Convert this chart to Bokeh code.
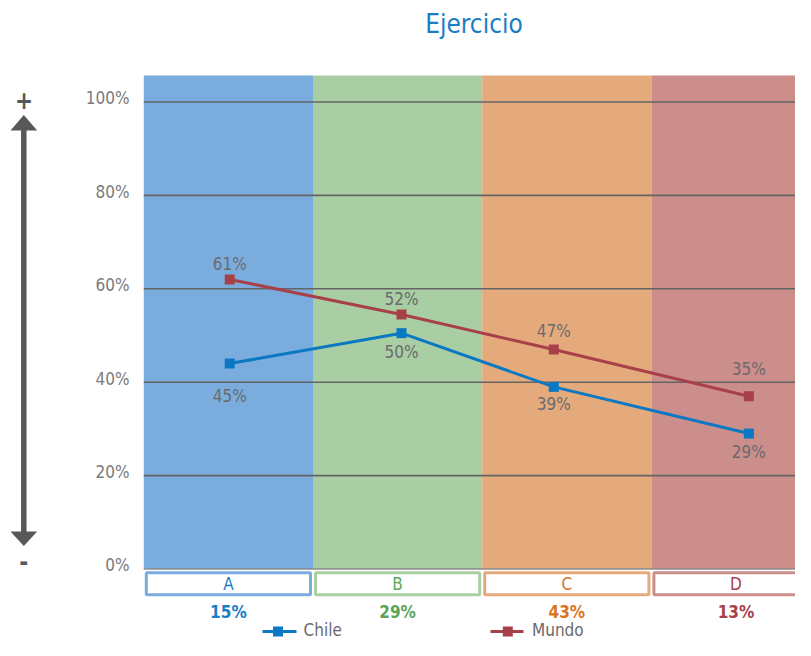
from bokeh.plotting import figure
from bokeh.models import Range1d
from bokeh.core.properties import value
from bokeh.embed import file_html
from bokeh.resources import INLINE

# ---------------- data ----------------
title_text = "Ejercicio"
categories = ["A", "B", "C", "D"]
category_share = ["15%", "29%", "43%", "13%"]
series_names = ["Chile", "Mundo"]
chile_values = [44, 50.5, 39, 29]
chile_labels = ["45%", "50%", "39%", "29%"]
mundo_values = [62, 54.5, 47, 37]
mundo_labels = ["61%", "52%", "47%", "35%"]
tick_values = [0, 20, 40, 60, 80, 100]
tick_labels = ["0%", "20%", "40%", "60%", "80%", "100%"]

# ---------------- layout / style ----------------
FONT = "DejaVu Sans Condensed, Roboto"
FIG_W, FIG_H = 795, 640
ORIG = 0                     # picture offset of the figure
PX0, BW = 143.3, 169.2       # picture x of category 0, px per category
PY0, YS = 568.5, 4.67        # picture y of 0 %, px per percent

point_x = [0.508, 1.523, 2.423, 3.576]
chile_label_dy = [32, 19, 17.5, 18.5]     # px below the point
mundo_label_dy = [-15.5, -15.5, -18.5, -27.5]

band_colors = ["#7AADDD", "#AACEA3", "#E4AA7C", "#CC8E8A"]
cat_text_colors = ["#1A7EC4", "#5AAA5A", "#D2722A", "#A8404A"]
share_colors = ["#1A7EC4", "#5BA55B", "#D9741F", "#A8404A"]
chile_color = "#0A78C2"
mundo_color = "#A8404A"
grid_color = "#646464"
label_color = "#6A6A6E"
tick_color = "#7A7A7A"
arrow_color = "#58585A"


def dx(px):
    return (px - PX0) / BW


def dy(py):
    return (PY0 - py) / YS


p = figure(width=FIG_W, height=FIG_H, output_backend="svg", toolbar_location=None,
           x_range=Range1d(dx(ORIG), dx(ORIG + FIG_W)), y_range=Range1d(dy(ORIG + FIG_H), dy(ORIG)),
           x_axis_location=None, y_axis_location=None, min_border=0)
p.outline_line_color = None
p.grid.visible = False
p.background_fill_color = "white"

n = len(categories)
idx = list(range(n))

# colored bands
p.quad(left=idx, right=[i + 1 for i in idx], bottom=0, top=dy(75),
       fill_color=band_colors, line_color=None)

# grid lines
p.segment(x0=[0] * (len(tick_values) - 1), x1=[n] * (len(tick_values) - 1),
          y0=tick_values[1:], y1=tick_values[1:], line_color=grid_color, line_width=1.6)
p.segment(x0=[0], x1=[n], y0=[0], y1=[0], line_color="#8A8A8A", line_width=1.6)

# tick labels
p.text(x=[dx(129)] * len(tick_values), y=[t + 3.7 / YS for t in tick_values], text=tick_labels,
       text_font=value(FONT), text_font_size="17px", text_color=tick_color,
       text_align="right", text_baseline="middle")

# series
p.line(point_x, chile_values, line_color=chile_color, line_width=3)
p.scatter(point_x, chile_values, marker="square", size=10, fill_color=chile_color, line_color=None)
p.line(point_x, mundo_values, line_color=mundo_color, line_width=3)
p.scatter(point_x, mundo_values, marker="square", size=10, fill_color=mundo_color, line_color=None)

p.text(x=point_x, y=[v - o / YS for v, o in zip(chile_values, chile_label_dy)], text=chile_labels,
       text_font=value(FONT), text_font_size="17px", text_color=label_color,
       text_align="center", text_baseline="middle")
p.text(x=point_x, y=[v - o / YS for v, o in zip(mundo_values, mundo_label_dy)], text=mundo_labels,
       text_font=value(FONT), text_font_size="17px", text_color=label_color,
       text_align="center", text_baseline="middle")

# category boxes
p.quad(left=[i + 2.5 / BW for i in idx], right=[i + 1 - 2.5 / BW for i in idx],
       top=dy(572.2), bottom=dy(594.2), fill_color="white", line_color=band_colors, line_width=3)
p.text(x=[i + 0.5 for i in idx], y=[dy(583.5)] * n, text=categories,
       text_font=value(FONT), text_font_size="17px", text_color=cat_text_colors,
       text_align="center", text_baseline="middle")
p.text(x=[i + 0.5 for i in idx], y=[dy(611)] * n, text=category_share,
       text_font=value(FONT), text_font_size="17px", text_font_style="bold",
       text_color=share_colors, text_align="center", text_baseline="middle")

# title
p.text(x=[dx(473.5)], y=[dy(23)], text=[title_text], text_font=value(FONT),
       text_font_size="26px", text_color="#1A7EC4", text_align="center", text_baseline="middle")

# legend
leg_y = dy(631)
for name, col, x0, x1, xm, xt in [(series_names[0], chile_color, 262, 296, 277.5, 303),
                                  (series_names[1], mundo_color, 490, 523, 507.3, 531.5)]:
    p.segment(x0=[dx(x0)], x1=[dx(x1)], y0=[leg_y], y1=[leg_y], line_color=col, line_width=3)
    p.scatter([dx(xm)], [leg_y], marker="square", size=10, fill_color=col, line_color=None)
    p.text(x=[dx(xt)], y=[dy(629)], text=[name], text_font=value(FONT), text_font_size="17px",
           text_color=label_color, text_align="left", text_baseline="middle")

# vertical double arrow
p.segment(x0=[dx(23.3)], x1=[dx(23.3)], y0=[dy(128)], y1=[dy(533)],
          line_color=arrow_color, line_width=5.5)
p.patches(xs=[[dx(10), dx(36.7), dx(23.3)], [dx(10), dx(36.7), dx(23.3)]],
          ys=[[dy(130), dy(130), dy(114.5)], [dy(531), dy(531), dy(545.5)]],
          fill_color=arrow_color, line_color=None)
p.text(x=[dx(23.5)], y=[dy(99)], text=["+"], text_font=value(FONT), text_font_size="24px",
       text_font_style="bold", text_color=arrow_color, text_align="center", text_baseline="middle")
p.text(x=[dx(23.2)], y=[dy(560)], text=["-"], text_font=value(FONT), text_font_size="24px",
       text_font_style="bold", text_color=arrow_color, text_align="center", text_baseline="middle")

open("out.html", "w").write(file_html(p, INLINE))
